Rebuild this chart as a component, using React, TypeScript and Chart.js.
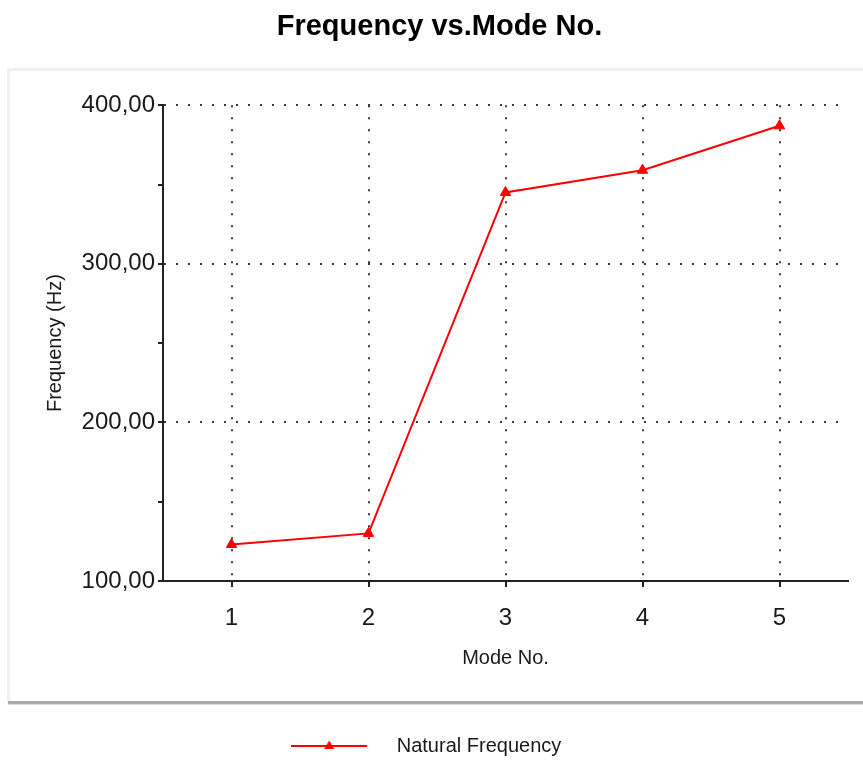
import React, { useEffect, useRef } from "react";
import { Chart, registerables } from "chart.js";

Chart.register(...registerables);

const categories = ["1", "2", "3", "4", "5"];
const seriesName = "Natural Frequency";
const naturalFrequency = [123, 130, 345, 359, 387];
const yTicks = [100, 200, 300, 400];
const yTickLabels = ["100,00", "200,00", "300,00", "400,00"];
const chartTitle = "Frequency vs.Mode No.";
const xTitle = "Mode No.";
const yTitle = "Frequency (Hz)";

const FONT = "'Liberation Sans', Arial, sans-serif";

// legend sample: image wider than the legend box so the line sits left of the box centre
const LEGEND_BOX = 69;
function makeLegendImage(): HTMLCanvasElement {
  const c = document.createElement("canvas");
  c.width = 122;
  c.height = 16;
  const g = c.getContext("2d")!;
  g.strokeStyle = "#ff0000";
  g.lineWidth = 2;
  g.beginPath();
  g.moveTo(0, 8);
  g.lineTo(76, 8);
  g.stroke();
  g.fillStyle = "#ff0000";
  g.beginPath();
  g.moveTo(38, 2.5);
  g.lineTo(43, 11);
  g.lineTo(33, 11);
  g.closePath();
  g.fill();
  return c;
}

const panelPlugin = {
  id: "panel",
  beforeDraw(chart: any) {
    const ctx = chart.ctx;
    ctx.save();
    ctx.fillStyle = "#f0f0f0";
    ctx.fillRect(8, 68, chart.width - 8, 3);
    ctx.fillRect(7, 68, 3, 634);
    ctx.fillStyle = "#ababab";
    ctx.fillRect(8, 701, chart.width - 8, 3);
    ctx.fillStyle = "#dcdcdc";
    ctx.fillRect(8, 704, chart.width - 8, 1);
    ctx.restore();
  },
};

export default function App() {
  const ref = useRef<HTMLCanvasElement | null>(null);

  useEffect(() => {
    if (!ref.current) return;
    const legendImg = makeLegendImage();
    const chart = new Chart(ref.current, {
      type: "line",
      data: {
        labels: categories,
        datasets: [
          {
            label: seriesName,
            data: naturalFrequency,
            borderColor: "#ff0000",
            backgroundColor: "#ff0000",
            borderWidth: 2,
            pointStyle: "triangle",
            pointRadius: 6,
            pointBackgroundColor: "#ff0000",
            pointBorderColor: "#ff0000",
            pointBorderWidth: 1,
            tension: 0,
          },
        ],
      },
      options: {
        responsive: false,
        animation: false,
        layout: { padding: { left: 31, right: 15, top: 0, bottom: -6 } },
        plugins: {
          title: {
            display: true,
            text: chartTitle,
            color: "#000",
            font: { family: FONT, size: 29, weight: "bold", lineHeight: 1.2 },
            padding: { top: 10, bottom: 60.4 },
          },
          legend: {
            display: true,
            position: "bottom",
            labels: {
              usePointStyle: true,
              pointStyleWidth: LEGEND_BOX,
              boxHeight: 16,
              padding: 10,
              color: "#1a1a1a",
              font: { family: FONT, size: 20 },
              generateLabels: () => [
                {
                  text: seriesName,
                  pointStyle: legendImg as any,
                  fillStyle: "#ff0000",
                  strokeStyle: "#ff0000",
                  lineWidth: 0,
                  hidden: false,
                  datasetIndex: 0,
                  fontColor: "#1a1a1a",
                } as any,
              ],
            },
          },
          tooltip: { enabled: false },
        },
        scales: {
          x: {
            type: "category",
            offset: true,
            afterFit: (s: any) => {
              s.height = 145;
            },
            grid: {
              display: true,
              offset: false,
              color: "#3a3a3a",
              lineWidth: 2,
              drawTicks: true,
              tickLength: 6,
              tickColor: "#222",
              tickWidth: 2,
            },
            border: { display: true, color: "#222", width: 2, dash: [2, 10] },
            ticks: {
              color: "#1a1a1a",
              font: { family: FONT, size: 24 },
              padding: 17,
              maxRotation: 0,
            },
            title: {
              display: true,
              text: xTitle,
              color: "#1a1a1a",
              font: { family: FONT, size: 20, lineHeight: 1.2 },
              padding: { top: 0, bottom: 56 },
            },
          },
          y: {
            type: "linear",
            min: 100,
            max: 400,
            afterFit: (s: any) => {
              s.width = 132;
            },
            afterBuildTicks: (s: any) => {
              const t: any[] = [];
              for (let i = 0; i < yTicks.length; i++) {
                t.push({ value: yTicks[i] });
                if (i < yTicks.length - 1) t.push({ value: (yTicks[i] + yTicks[i + 1]) / 2 });
              }
              s.ticks = t;
            },
            grid: {
              display: true,
              color: (c: any) => {
                const v = c.tick ? c.tick.value : 0;
                return yTicks.indexOf(v) > 0 ? "#3a3a3a" : "rgba(0,0,0,0)";
              },
              lineWidth: 2,
              drawTicks: true,
              tickLength: 5,
              tickColor: "#222",
              tickWidth: 2,
            },
            border: { display: true, color: "#222", width: 2, dash: [2, 10] },
            ticks: {
              color: "#1a1a1a",
              font: { family: FONT, size: 24 },
              padding: 3,
              callback: (value: any) => {
                const i = yTicks.indexOf(Number(value));
                return i >= 0 ? yTickLabels[i] : "";
              },
            },
            title: {
              display: true,
              text: yTitle,
              color: "#1a1a1a",
              font: { family: FONT, size: 20, lineHeight: 1.2 },
              padding: { top: 12, bottom: 0 },
            },
          },
        },
      },
      plugins: [panelPlugin],
    } as any);
    return () => chart.destroy();
  }, []);

  return (
    <canvas
      ref={ref}
      width={863}
      height={760}
      style={{ position: "absolute", left: 0, top: 0, display: "block" }}
    />
  );
}
